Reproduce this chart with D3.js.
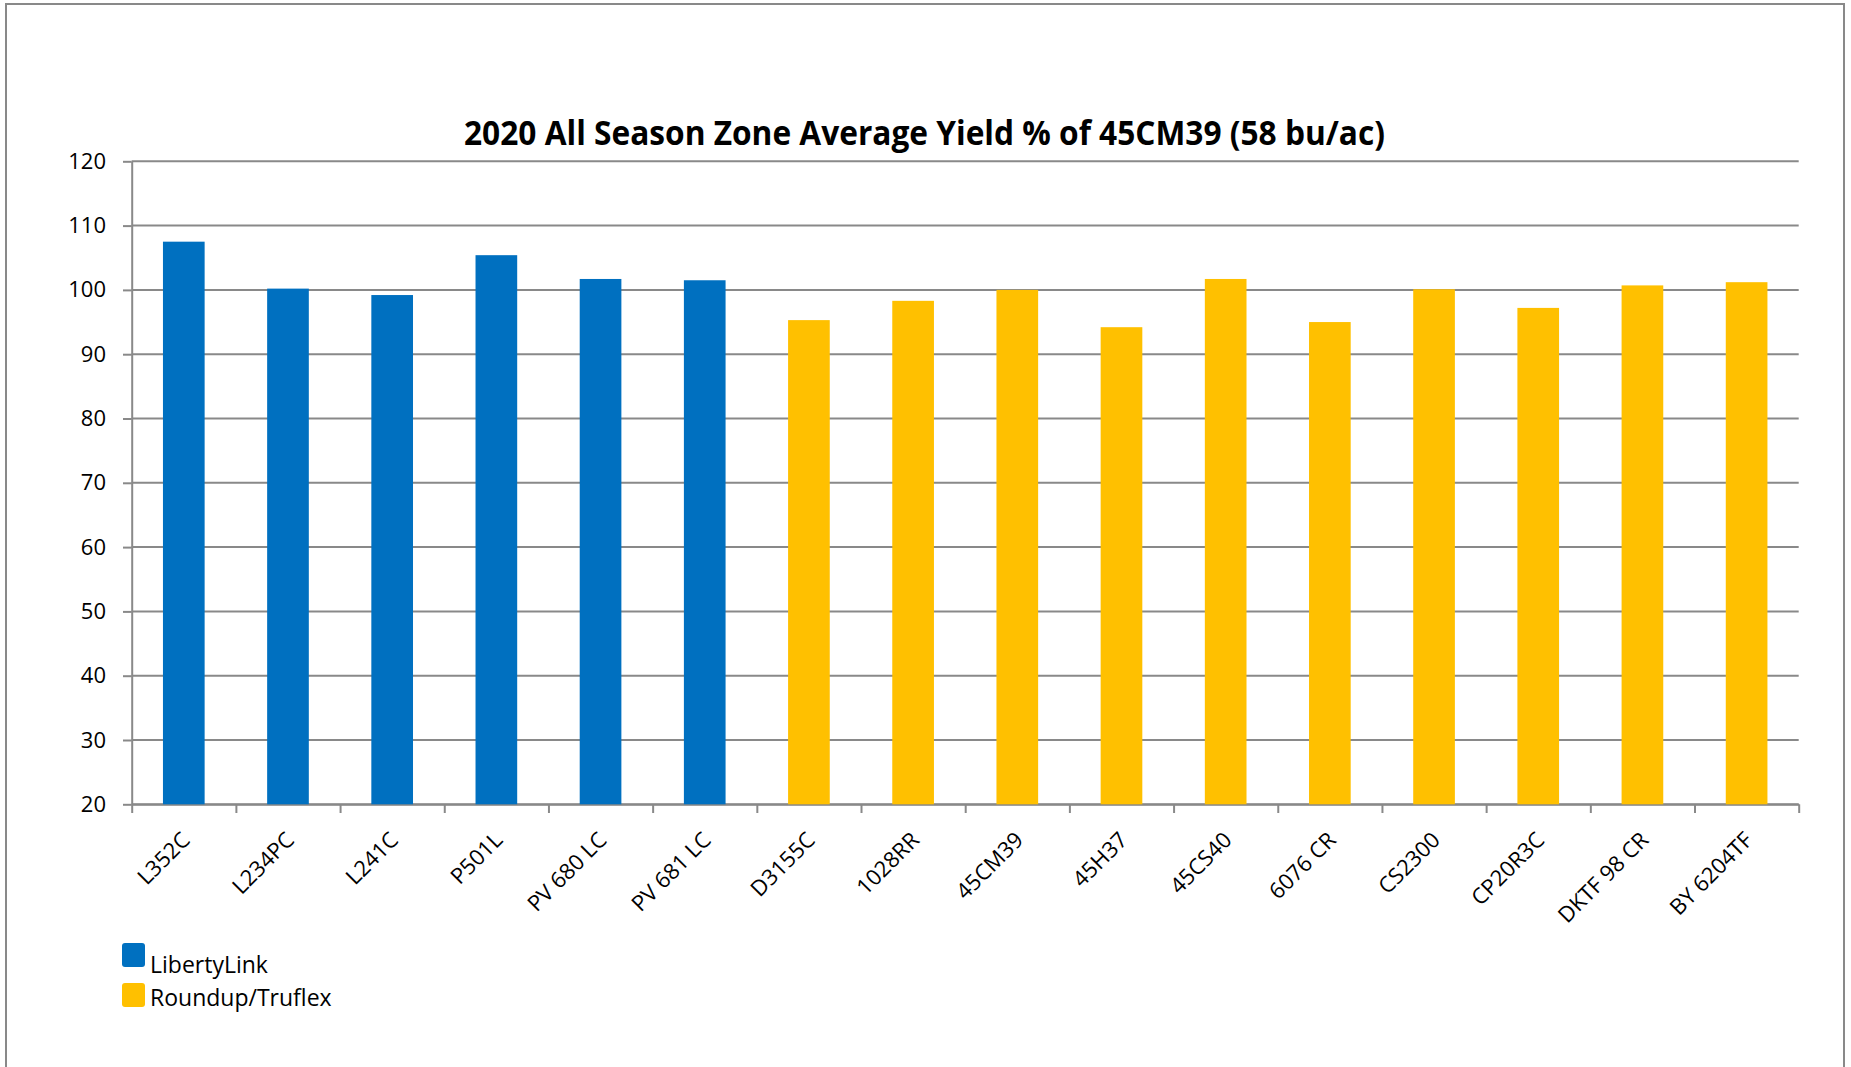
<!DOCTYPE html>
<html>
<head>
<meta charset="utf-8">
<script src="https://cdn.jsdelivr.net/npm/d3@7"></script>
<style>
  body { margin: 0; background: #fff; }
  svg { display: block; font-family: "Open Sans", sans-serif; }
</style>
</head>
<body>
<div class="chart"></div>
<script>
// chart data
var varieties = ["L352C", "L234PC", "L241C", "P501L", "PV 680 LC", "PV 681 LC",
  "D3155C", "1028RR", "45CM39", "45H37", "45CS40", "6076 CR", "CS2300",
  "CP20R3C", "DKTF 98 CR", "BY 6204TF"];
var yieldPct = [107.5, 100.2, 99.2, 105.4, 101.7, 101.5,
  95.3, 98.3, 100.0, 94.2, 101.7, 95.0, 100.1, 97.2, 100.7, 101.2];
var traits = ["LibertyLink", "LibertyLink", "LibertyLink", "LibertyLink", "LibertyLink", "LibertyLink",
  "Roundup/Truflex", "Roundup/Truflex", "Roundup/Truflex", "Roundup/Truflex", "Roundup/Truflex",
  "Roundup/Truflex", "Roundup/Truflex", "Roundup/Truflex", "Roundup/Truflex", "Roundup/Truflex"];
var traitNames = ["LibertyLink", "Roundup/Truflex"];
var yTicks = [20, 30, 40, 50, 60, 70, 80, 90, 100, 110, 120];
var title = "2020 All Season Zone Average Yield % of 45CM39 (58 bu/ac)";

(function() {
  var width = 1851, height = 1067;
  var plotLeft = 131.7, plotRight = 1798.7, plotTop = 161.3, plotBottom = 804.3;
  var gray = "#898989";

  var svg = d3.select(".chart")
    .append("svg")
    .attr("width", width)
    .attr("height", height);

  // outer chart border
  svg.append("rect")
    .attr("x", 6).attr("y", 4)
    .attr("width", 1838).attr("height", 1090)
    .attr("fill", "none")
    .attr("stroke", gray)
    .attr("stroke-width", 2);

  var x = d3.scaleBand()
    .domain(varieties)
    .range([plotLeft, plotRight])
    .paddingInner(0.6)
    .paddingOuter(0.3);

  var y = d3.scaleLinear()
    .domain([20, 120])
    .range([plotBottom, plotTop]);

  var color = d3.scaleOrdinal()
    .domain(traitNames)
    .range(["#0070C0", "#FFC000"]);

  // gridlines
  svg.append("g")
    .selectAll("line")
    .data(yTicks)
    .enter().append("line")
    .attr("x1", plotLeft).attr("x2", plotRight)
    .attr("y1", function(d) { return y(d); })
    .attr("y2", function(d) { return y(d); })
    .attr("stroke", gray)
    .attr("stroke-width", 2);

  // y axis
  var yAxis = svg.append("g")
    .attr("transform", "translate(" + plotLeft + ",0)")
    .call(d3.axisLeft(y).tickValues(yTicks).tickSize(8.7).tickSizeOuter(0).tickPadding(17));
  yAxis.selectAll("path, line").attr("stroke", gray).attr("stroke-width", 2);
  yAxis.selectAll("text")
    .attr("font-family", "Open Sans, sans-serif")
    .attr("font-size", "22px")
    .attr("fill", "#000");

  // x axis, ticks between categories
  var xEdges = d3.scaleLinear().domain([0, varieties.length]).range([plotLeft, plotRight]);
  var xAxis = svg.append("g")
    .attr("transform", "translate(0," + plotBottom + ")")
    .call(d3.axisBottom(xEdges).ticks(varieties.length).tickSize(8.7).tickSizeOuter(0).tickFormat(""));
  xAxis.selectAll("path, line").attr("stroke", gray).attr("stroke-width", 2);

  // bars
  svg.append("g")
    .selectAll("rect")
    .data(yieldPct)
    .enter().append("rect")
    .attr("x", function(d, i) { return x(varieties[i]); })
    .attr("width", x.bandwidth())
    .attr("y", function(d) { return y(d); })
    .attr("height", function(d) { return y(20) - y(d); })
    .attr("fill", function(d, i) { return color(traits[i]); });

  // category labels
  svg.append("g")
    .selectAll("text")
    .data(varieties)
    .enter().append("text")
    .attr("transform", function(d) {
      return "translate(" + (x(d) + x.bandwidth() / 2 + 2) + ",836) rotate(-45)";
    })
    .attr("text-anchor", "end")
    .attr("dy", "0.35em")
    .attr("font-size", "22px")
    .attr("fill", "#000")
    .text(function(d) { return d; });

  // title
  svg.append("text")
    .attr("x", 464).attr("y", 145)
    .attr("textLength", 921)
    .attr("lengthAdjust", "spacingAndGlyphs")
    .attr("font-size", "34px")
    .attr("font-weight", "bold")
    .attr("fill", "#000")
    .text(title);

  // legend
  var legend = svg.append("g")
    .selectAll("g")
    .data(traitNames)
    .enter().append("g")
    .attr("transform", function(d, i) { return "translate(122," + (943 + i * 40) + ")"; });

  legend.append("rect")
    .attr("width", 23).attr("height", 24)
    .attr("rx", 3)
    .attr("fill", function(d) { return color(d); });

  legend.append("text")
    .attr("x", 28).attr("y", function(d, i) { return i ? 23 : 30; })
    .attr("font-size", "23px")
    .attr("fill", "#000")
    .text(function(d) { return d; });
})();
</script>
</body>
</html>
